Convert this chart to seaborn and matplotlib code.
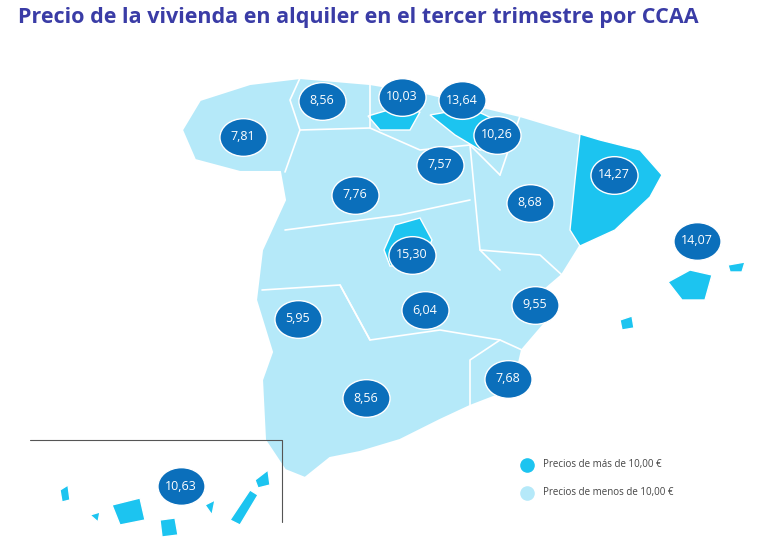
import matplotlib
matplotlib.use("Agg")
import matplotlib.pyplot as plt
import seaborn as sns
import pandas as pd
import numpy as np
from matplotlib.patches import Polygon
from matplotlib.path import Path
from matplotlib.transforms import Affine2D

sns.set_style("white")
plt.rcParams['font.family'] = ['Open Sans', 'DejaVu Sans']

regions = ["Cantabria", "País Vasco", "Asturias", "Galicia", "Navarra", "La Rioja", "Cataluña",
           "Castilla y León", "Aragón", "Madrid", "Baleares", "Extremadura", "Castilla-La Mancha",
           "C. Valenciana", "Murcia", "Andalucía", "Canarias"]
prices = [10.03, 13.64, 8.56, 7.81, 10.26, 7.57, 14.27, 7.76, 8.68, 15.30, 14.07, 5.95, 6.04,
          9.55, 7.68, 8.56, 10.63]
# approximate map positions (projected, image units)
map_x = [402, 462, 322, 243, 497, 440, 614, 355, 530, 412, 697, 298, 425, 535, 508, 366, 181]
map_y = [97, 100, 101, 137, 135, 165, 175, 195, 203, 255, 241, 319, 310, 305, 379, 398, 486]

df = pd.DataFrame({"region": regions, "price": prices, "x": map_x, "y": map_y})
df["label"] = df["price"].map(lambda v: f"{v:.2f}".replace(".", ","))

LIGHT = "#b5e9f9"
CYAN = "#1cc4f0"
DARK = "#0b6fbb"

fig = plt.figure(figsize=(7.68, 5.52), dpi=100)
ax = fig.add_axes([0, 0, 1, 1])

peninsula = [(200, 100), (250, 84), (300, 78), (370, 84), (430, 94), (470, 104), (520, 116),
             (580, 134), (600, 140), (640, 150), (662, 175), (650, 197), (615, 230), (580, 246),
             (562, 275), (542, 292), (546, 322), (522, 350), (516, 376), (496, 396), (470, 406),
             (440, 420), (400, 440), (360, 452), (330, 458), (305, 478), (285, 470), (265, 440),
             (262, 380), (272, 352), (256, 300), (262, 250), (285, 200), (280, 172), (240, 172),
             (195, 160), (182, 130)]
ax.add_patch(Polygon(peninsula, closed=True, fc=LIGHT, ec="white", lw=1.5))
borders = [[(285, 172), (300, 130), (290, 100), (300, 78)], [(300, 130), (370, 128), (370, 84)],
           [(370, 128), (420, 150), (470, 145), (500, 175)], [(285, 230), (400, 215), (470, 200)],
           [(470, 145), (480, 250), (500, 270)], [(520, 116), (500, 175)],
           [(262, 290), (340, 285), (370, 340), (440, 330), (500, 340), (522, 350)],
           [(480, 250), (540, 255), (562, 275)], [(470, 406), (470, 360), (500, 340)],
           [(370, 340), (340, 285)]]
for b in borders:
    bx, by = zip(*b)
    ax.plot(bx, by, color="white", lw=1.2)

cyan_shapes = [
    [(580, 134), (600, 140), (640, 150), (662, 175), (650, 197), (615, 230), (580, 246), (570, 230), (575, 180)],
    [(395, 225), (420, 218), (432, 240), (420, 265), (390, 266), (384, 250)],
    [(368, 116), (395, 108), (420, 112), (410, 130), (380, 130)],
    [(430, 115), (470, 108), (500, 122), (505, 145), (480, 150), (455, 135)],
    [(668, 282), (690, 270), (712, 275), (705, 300), (682, 300)],
    [(728, 265), (745, 262), (742, 272), (730, 272)],
    [(620, 320), (632, 316), (634, 328), (622, 330)],
    [(60, 490), (68, 485), (70, 500), (62, 502)],
    [(90, 515), (100, 512), (98, 522)],
    [(112, 505), (140, 498), (145, 520), (120, 525)],
    [(160, 520), (175, 518), (178, 535), (162, 537)],
    [(205, 505), (215, 500), (212, 515)],
    [(230, 520), (250, 490), (258, 495), (240, 525)],
    [(255, 480), (268, 470), (270, 485), (258, 488)],
]
for s in cyan_shapes:
    ax.add_patch(Polygon(s, closed=True, fc=CYAN, ec="white", lw=1))

ax.plot([30, 282, 282], [440, 440, 522], color="#555555", lw=0.8)

ellipse = Path.unit_circle().transformed(Affine2D().scale(1, 0.8))
sns.scatterplot(data=df, x="x", y="y", ax=ax, marker=ellipse, s=1150, color=DARK,
                edgecolor="white", linewidth=1, legend=False, zorder=5)
ax.set_xlim(0, 768); ax.set_ylim(552, 0); ax.axis("off")
for _, r in df.iterrows():
    ax.text(r.x, r.y, r.label, color="white", fontsize=9, ha="center", va="center", zorder=6)

ax.scatter([527], [465], s=90, color=CYAN, zorder=5)
ax.scatter([527], [493], s=90, color=LIGHT, zorder=5)
ax.text(543, 465, "Precios de más de 10,00 €", fontsize=7, color="#444444", va="center")
ax.text(543, 493, "Precios de menos de 10,00 €", fontsize=7, color="#444444", va="center")

fig.text(18 / 768, 1 - 18 / 552, "Precio de la vivienda en alquiler en el tercer trimestre por CCAA",
         ha="left", va="center", fontsize=15.5, fontweight="bold", color="#3a3ca6")
fig.savefig("out.png", dpi=100)
